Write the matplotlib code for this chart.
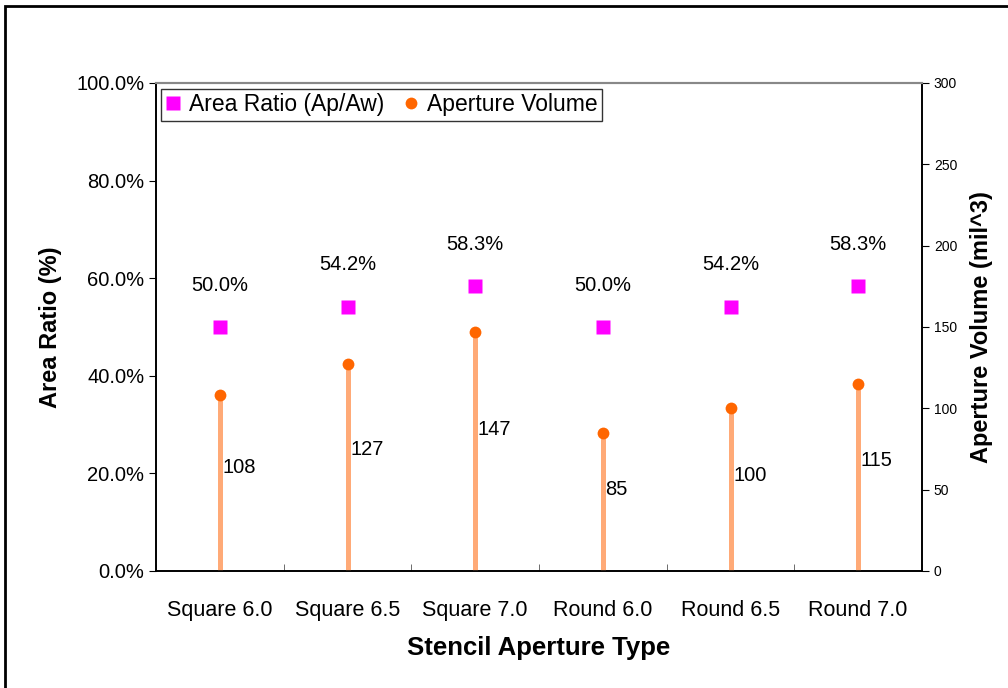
import numpy as np
import matplotlib
matplotlib.use("Agg")
import matplotlib.pyplot as plt
from matplotlib.patches import Rectangle
from matplotlib.ticker import FuncFormatter, MultipleLocator

plt.rcParams['font.family'] = ['Liberation Sans', 'DejaVu Sans']

# stencil aperture data
apertures = ['Square 6.0', 'Square 6.5', 'Square 7.0', 'Round 6.0', 'Round 6.5', 'Round 7.0']
area_ratio = [50.0, 54.2, 58.3, 50.0, 54.2, 58.3]   # percent
volume = [108, 127, 147, 85, 100, 115]               # mil^3

x = np.arange(len(apertures))

fig = plt.figure(figsize=(10.08, 6.88), dpi=100)
ax = fig.add_axes([156/1008, 117/688, 766/1008, 488/688])
ax2 = ax.twinx()

# volume stems and dots on the right axis
ax2.vlines(x, 0, volume, color='#FFAA77', lw=3.6, zorder=2)
ax2.plot(x, volume, 'o', color='#FF6600', ms=8.5, mec='none', zorder=3,
         label='Aperture Volume')
for xi, v in zip(x, volume):
    ax2.text(xi + 0.02, v * 0.59, str(v), fontsize=14.5, ha='left', va='center')

# area ratio squares on the left axis
ax.plot(x, area_ratio, 's', color='#FF00FF', ms=9.5, mec='none', zorder=4,
        label='Area Ratio (Ap/Aw)')
for xi, a in zip(x, area_ratio):
    ax.annotate(f'{a:.1f}%', (xi, a), xytext=(0, 30), textcoords='offset points',
                ha='center', va='center', fontsize=14.5)

ax.set_xlim(-0.5, len(apertures) - 0.5)
ax.set_ylim(0, 100)
ax2.set_ylim(0, 300)

ax.yaxis.set_major_locator(MultipleLocator(20))
ax.yaxis.set_major_formatter(FuncFormatter(lambda v, p: f'{v:.1f}%'))
ax2.yaxis.set_major_locator(MultipleLocator(50))

ax.set_xticks(x)
ax.set_xticklabels(apertures, fontsize=15.5)
ax.set_xticks(np.arange(-0.5, len(apertures)), minor=True)
ax.tick_params(axis='x', which='major', length=0, pad=21)
ax.tick_params(axis='x', which='minor', length=5, direction='in', color='#555555')
ax.tick_params(axis='y', labelsize=14.5, length=5, direction='out')
ax2.tick_params(axis='y', labelsize=10, length=5, direction='out')

for a in (ax, ax2):
    a.spines['top'].set_color('#888888')
    a.spines['top'].set_linewidth(1.5)
    a.spines['bottom'].set_linewidth(1.2)
    a.spines['left'].set_linewidth(1.2)
    a.spines['right'].set_linewidth(1.2)

ax.set_xlabel('Stencil Aperture Type', fontsize=18.5, fontweight='bold', labelpad=11)
ax.set_ylabel('Area Ratio (%)', fontsize=17, fontweight='bold', labelpad=10)
ax2.set_ylabel('Aperture Volume (mil^3)', fontsize=17, fontweight='bold', labelpad=9)

h1, l1 = ax.get_legend_handles_labels()
h2, l2 = ax2.get_legend_handles_labels()
leg = ax2.legend(h1 + h2, l1 + l2, loc='upper left', bbox_to_anchor=(0.006, 0.988),
                 ncol=2, fontsize=16.5, frameon=True, fancybox=False, borderpad=0.2,
                 handlelength=0.7, handletextpad=0.35, columnspacing=0.8,
                 borderaxespad=0)
leg.get_frame().set_edgecolor('black')
leg.get_frame().set_linewidth(1.0)

# outer frame around the chart
fig.add_artist(Rectangle((5/1008, -0.1), 1.2, 1 - 6/688 + 0.1, transform=fig.transFigure,
                         fill=False, ec='black', lw=2))

fig.savefig('out.png', dpi=100)
